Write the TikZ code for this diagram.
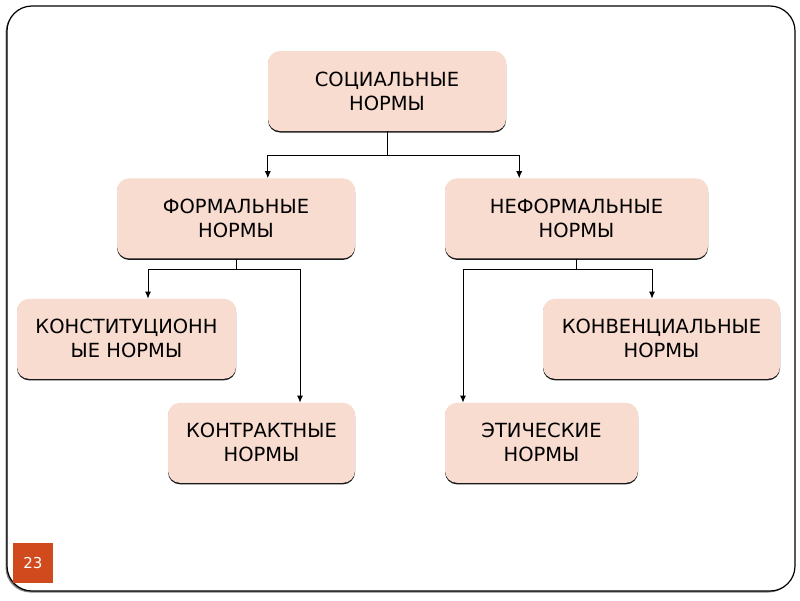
\documentclass[tikz,border=0pt]{standalone}
\usepackage{fontspec}
\setmainfont{DejaVu Sans}
\usetikzlibrary{positioning,shadows,arrows.meta}

\definecolor{normfill}{RGB}{248,220,208}
\definecolor{pageorange}{RGB}{208,74,30}

\begin{document}
\begin{tikzpicture}[x=1pt, y=-1pt,
	normbox/.style = { rectangle, rounded corners=12pt, fill=normfill,
	align=center, inner sep=0pt, minimum height=80pt,
	font=\fontsize{19.5}{24}\selectfont, text=black,
	drop shadow={shadow xshift=0pt, shadow yshift=-1.5pt,
	opacity=0.9, fill=black} },
	link/.style = { line width=0.9pt },
	arrow/.style = { link, -{Latex[length=7pt, width=6pt]} } ]

  \useasboundingbox (0,0) rectangle (800,600);

  % slide frame
  \draw [line width=1.2pt, rounded corners=25pt,
	drop shadow={shadow xshift=-1.5pt, shadow yshift=-1.5pt,
	opacity=0.5, fill=black}, fill=white]
	(7,6) rectangle (795,591);

  \node [name=social, normbox, minimum width=238pt] at (387,91)
	{ СОЦИАЛЬНЫЕ\\НОРМЫ };
  \node [name=formal, normbox, minimum width=238pt,
	below=47pt of social.south, xshift=-151pt]
	{ ФОРМАЛЬНЫЕ\\НОРМЫ };
  \node [name=informal, normbox, minimum width=263pt,
	below=47pt of social.south, xshift=189.5pt]
	{ НЕФОРМАЛЬНЫЕ\\НОРМЫ };
  \node [name=constit, normbox, minimum width=219pt,
	below=40pt of formal.south, xshift=-109.5pt]
	{ КОНСТИТУЦИОНН\\ЫЕ НОРМЫ };
  \node [name=contract, normbox, minimum width=187pt,
	below=144pt of formal.south, xshift=25.5pt]
	{ КОНТРАКТНЫЕ\\НОРМЫ };
  \node [name=convent, normbox, minimum width=237pt,
	below=40pt of informal.south, xshift=85pt]
	{ КОНВЕНЦИАЛЬНЫЕ\\НОРМЫ };
  \node [name=ethic, normbox, minimum width=193pt,
	below=144pt of informal.south, xshift=-35pt]
	{ ЭТИЧЕСКИЕ\\НОРМЫ };

  % connectors
  \draw [link] (social.south) -- ++(0,24) coordinate (socfork);
  \draw [arrow] (socfork) -| (social.south west |- formal.north);
  \draw [arrow] (socfork) -| ([xshift=13pt]social.south east |- informal.north);

  \draw [link] (formal.south) -- ++(0,11) coordinate (formfork);
  \draw [arrow] (formfork) -| ([xshift=21.5pt]constit.north);
  \draw [arrow] (formfork) -| ([xshift=38.5pt]contract.north);

  \draw [link] (informal.south) -- ++(0,11) coordinate (infofork);
  \draw [arrow] (infofork) -| ([xshift=-78.5pt]ethic.north);
  \draw [arrow] (infofork) -| ([xshift=-9.5pt]convent.north);

  % slide number
  \node [name=pagenum, rectangle, fill=pageorange, minimum size=40pt,
	inner sep=0pt, text=white, font=\fontsize{15}{18}\selectfont]
	at (33,563) { 23 };
\end{tikzpicture}
\end{document}
